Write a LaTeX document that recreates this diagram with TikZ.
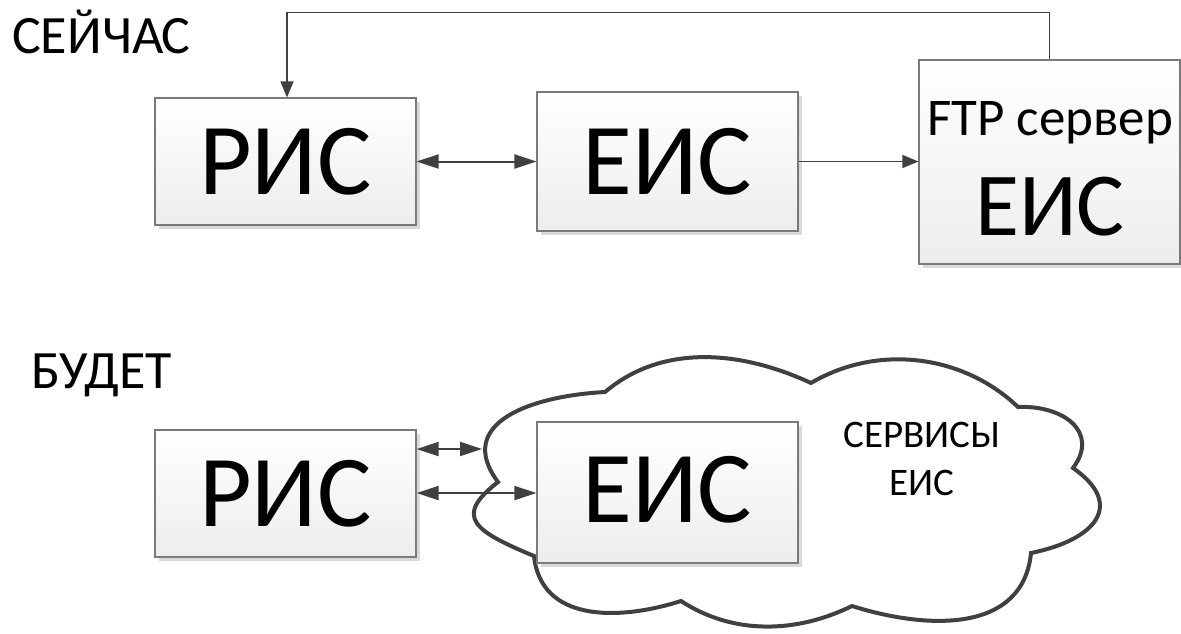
\documentclass[tikz,border=0pt]{standalone}
\usepackage{fontspec}
\setmainfont{Carlito}
\usetikzlibrary{arrows.meta,shadows}
\definecolor{ink}{HTML}{404040}
\definecolor{boxline}{HTML}{7A7A7A}
\definecolor{boxfill}{HTML}{EDEDED}
\definecolor{shadowc}{HTML}{DADADA}
\tikzset{
 box/.style={draw=boxline, line width=1.2pt, top color=white, bottom color=boxfill,
   general shadow={fill=shadowc, shadow xshift=4pt, shadow yshift=-4pt},
   inner sep=0pt, minimum width=261pt},
 bigtext/.style={font=\fontsize{102}{102}\selectfont},
 heavy/.style={draw=ink, line width=2pt, {Triangle[length=22pt,width=14pt]}-{Triangle[length=22pt,width=14pt]}},
 light/.style={draw=ink, line width=1.5pt, -{Triangle[length=16pt,width=13pt]}},
 title/.style={font=\fontsize{54}{54}\selectfont, anchor=base west, inner sep=0pt},
 svctext/.style={font=\fontsize{39}{39}\selectfont, anchor=base, inner sep=0pt},
 cloudline/.style={draw=ink, fill=white, line width=4pt},
}
\begin{document}
\begin{tikzpicture}[x=1pt,y=-1pt]
\useasboundingbox (0,0) rectangle (1181,634);
% titles
\node[title] (now) at (12,54) {СЕЙЧАС};
\node[title] (fut) at (31,388) {БУДЕТ};
% top row
\node[box, bigtext, minimum height=127pt] (r1) at (285.5,161.5) {РИС};
\node[box, bigtext, minimum height=139pt] (e1) at (667.5,161.5) {ЕИС};
\node[box, minimum height=204pt] (ftp) at (1049.5,162) {};
\node[font=\fontsize{53}{53}\selectfont, anchor=base, inner sep=0pt] (ftpl) at (1050,135) {FTP сервер};
\node[font=\fontsize{90}{90}\selectfont, anchor=base, inner sep=0pt] (ftpe) at (1050,235) {ЕИС};
\draw[heavy] (r1.east) -- (e1.west |- r1.east);
\draw[light] (e1.east) -- (ftp.west |- e1.east);
\draw[light] (ftp.north) -- ++(0,-47) -| ([xshift=1.5pt]r1.north);
% cloud
\draw[cloudline] (605,392)
  .. controls (663,343) and (742,351) .. (811,383)
  .. controls (877,344) and (962.5,354) .. (1018,407)
  .. controls (1063,405) and (1100,432) .. (1073,468)
  .. controls (1126,505) and (1095,540) .. (1031,553)
  .. controls (1023,633) and (928,630) .. (852,606)
  .. controls (796,633.5) and (733,635) .. (681,601)
  .. controls (618,621) and (541,622) .. (534,556)
  .. controls (474,531) and (453,517) .. (498,482)
  .. controls (454,423) and (531,396) .. (605,392) -- cycle;
\node[svctext] (svc1) at (922,447) {СЕРВИСЫ};
\node[svctext] (svc2) at (922,495) {ЕИС};
% bottom row
\node[box, bigtext, minimum height=127pt] (r2) at (285.5,493.5) {РИС};
\node[box, bigtext, minimum height=141pt] (e2) at (667.5,492.5) {\raisebox{6pt}{ЕИС}};
\coordinate (cl) at (482,449);
\coordinate (ylo) at (0,493);
\draw[heavy] (r2.east |- cl) -- (cl);
\draw[heavy] (r2.east |- ylo) -- (e2.west |- ylo);
\end{tikzpicture}
\end{document}
